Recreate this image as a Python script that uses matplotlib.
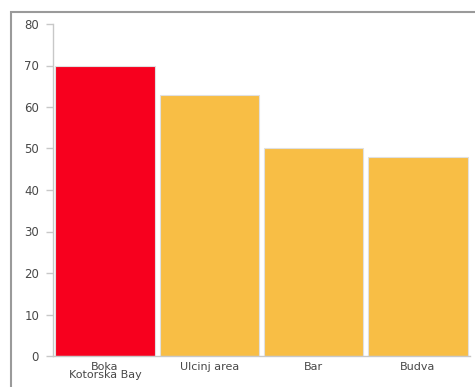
import matplotlib
matplotlib.use("Agg")
import matplotlib.pyplot as plt
from matplotlib.patches import Rectangle

# Data
categories = ["Boka\nKotorska Bay", "Ulcinj area", "Bar", "Budva"]
values = [70, 63, 50, 48]
bar_colors = ["#F7001E", "#F8BE45", "#F8BE45", "#F8BE45"]
y_ticks = [0, 10, 20, 30, 40, 50, 60, 70, 80]

# reference text looks wide, DejaVu Sans is the widest installed
plt.rcParams['font.family'] = ['DejaVu Sans']

fig = plt.figure(figsize=(4.75, 3.87), dpi=100)
ax = fig.add_axes([53/475, 31/387, 417/475, 332/387])

# outer frame around the chart area
fig.patches.append(Rectangle((11/475, -0.1), 1.2, 1 - 12/387 + 0.1,
                             transform=fig.transFigure, fill=False,
                             edgecolor="#9a9a9a", linewidth=1.5))

x = range(len(categories))
ax.bar(x, values, width=0.955, color=bar_colors, edgecolor="#e0e0e0", linewidth=0.8)

ax.set_xlim(-0.5, 3.5)
ax.set_ylim(0, 80)
ax.set_yticks(y_ticks)
ax.set_xticks(list(x))
ax.set_xticklabels(categories, fontsize=8, color="#484848", linespacing=0.8)
ax.tick_params(axis='y', labelsize=8.5, labelcolor="#484848", color="#c8c8c8",
               length=5, width=1, pad=5)
ax.tick_params(axis='x', length=0, pad=4)

for s in ['top', 'right']:
    ax.spines[s].set_visible(False)
ax.spines['left'].set_color("#c8c8c8")
ax.spines['bottom'].set_color("#c8c8c8")
ax.spines['left'].set_linewidth(1)
ax.spines['bottom'].set_linewidth(1)

fig.savefig("out.png", dpi=100)
